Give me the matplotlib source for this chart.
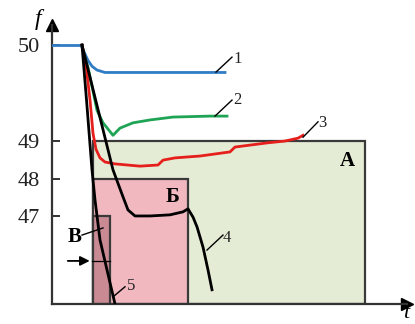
import numpy as np
import matplotlib
matplotlib.use("Agg")
from matplotlib import pyplot as plt
from matplotlib.patches import Rectangle

plt.rcParams['font.family'] = ['Liberation Serif', 'DejaVu Serif']

# time in arbitrary units, frequency f in Hz
t_pre = [0.0, 3.0]
f_pre = [50.0, 50.0]

t1 = [2.9, 3.2, 3.6, 4.0, 4.5, 5.3, 17.3]
f1 = [50.0, 49.93, 49.84, 49.78, 49.74, 49.715, 49.715]

t2 = [3.0, 3.3, 3.6, 4.5, 5.1, 6.1, 6.8, 8.1, 9.8, 12.1, 15.8, 17.5]
f2 = [50.0, 49.86, 49.77, 49.32, 49.19, 49.06, 49.135, 49.19, 49.22, 49.25, 49.26, 49.26]

t3 = [3.0, 3.4, 3.8, 4.1, 4.4, 4.8, 5.3, 6.3, 8.8, 10.6, 11.1, 12.3, 14.8, 17.8, 18.3, 21.5, 23.3,
      24.6, 25.1]
f3 = [50.0, 49.79, 49.43, 49.08, 48.78, 48.55, 48.44, 48.39, 48.33, 48.36, 48.49, 48.55, 48.6,
      48.71, 48.84, 48.95, 49.0, 49.03, 49.06]

t4 = [3.0, 4.36, 6.1, 7.1, 7.6, 8.3, 9.8, 11.8, 13.1, 13.6, 14.1, 14.5, 15.1, 15.6, 16.0]
f4 = [50.0, 49.43, 48.23, 47.51, 47.16, 47.0, 47.0, 47.03, 47.11, 47.19, 46.97, 46.71, 46.17, 45.56, 45.03]

t5 = [3.0, 3.45, 4.0, 4.3, 4.8, 5.5, 6.3]
f5 = [50.0, 49.43, 48.23, 47.43, 46.36, 45.56, 44.65]

# zones: (t start, t end, f upper limit, label)
zone_t0 = [4.1, 4.1, 4.1]
zone_t1 = [31.3, 13.6, 5.8]
zone_ftop = [49.0, 48.0, 47.0]
zone_names = ['А', 'Б', 'В']
zone_colors = ['#e5ecd6', '#f1b8c0', '#c98a93']

yticks = [50, 49, 48, 47]
f_min, f_max = 44.65, 50.21


def fwd(f):
    f = np.asarray(f, dtype=float)
    return np.where(f < 49, f - 49, (f - 49) * 2.56)


def inv(g):
    g = np.asarray(g, dtype=float)
    return np.where(g < 0, g + 49, g / 2.56 + 49)


fig = plt.figure(figsize=(4.15, 3.24), dpi=100)
ax = fig.add_axes([52 / 415, 20 / 324, 355 / 415, 279 / 324])
ax.set_yscale('function', functions=(fwd, inv))
ax.set_xlim(0, 35.5)
ax.set_ylim(f_min, f_max)

for a, b, top, c in zip(zone_t0, zone_t1, zone_ftop, zone_colors):
    ax.add_patch(Rectangle((a, f_min), b - a, top - f_min, facecolor=c,
                           edgecolor='#3a3a3a', lw=1.6, zorder=1))

ax.plot(t_pre, f_pre, color='#2f7cc4', lw=2, zorder=3)
ax.plot(t1, f1, color='#2f7cc4', lw=2, zorder=3)
ax.plot(t2, f2, color='#1ea454', lw=2, zorder=3)
ax.plot(t3, f3, color='#e5201c', lw=2, zorder=3)
ax.plot(t4, f4, color='black', lw=2, zorder=4)
ax.plot(t5, f5, color='black', lw=2, zorder=4)

# zone labels
ax.text(29.5, 48.47, zone_names[0], fontsize=15, fontweight='bold', ha='center', va='center')
ax.text(12.1, 47.51, zone_names[1], fontsize=15, fontweight='bold', ha='center', va='center')
ax.text(2.3, 46.44, zone_names[2], fontsize=15, fontweight='bold', ha='center', va='center')
ax.plot([3.0, 5.1], [46.49, 46.68], color='black', lw=1, zorder=5)

# pointer arrow into zone В
ax.plot([4.0, 5.8], [45.8, 45.8], color='black', lw=0.9, zorder=5)
ax.annotate('', xy=(4.05, 45.8), xytext=(1.3, 45.8),
            arrowprops=dict(arrowstyle='-|>', color='black', lw=1.3, mutation_scale=14))

# curve numbers with leader lines
leaders = [
    ((16.4, 49.719), (18.0, 49.875), (18.1, 49.86), '1'),
    ((16.3, 49.26), (18.0, 49.427), (18.1, 49.43), '2'),
    ((25.1, 49.04), (26.6, 49.2), (26.6, 49.19), '3'),
    ((15.5, 46.09), (17.1, 46.49), (17.1, 46.41), '4'),
    ((6.1, 44.84), (7.3, 45.11), (7.5, 45.13), '5'),
]
for p0, p1, pt, s in leaders:
    ax.plot([p0[0], p1[0]], [p0[1], p1[1]], color='black', lw=1, zorder=5)
    ax.text(pt[0], pt[1], s, fontsize=12, ha='left', va='center', color='#222222')

ax.spines['top'].set_visible(False)
ax.spines['right'].set_visible(False)
for s in ('left', 'bottom'):
    ax.spines[s].set_color('#333333')
    ax.spines[s].set_linewidth(1.6)

ax.set_xticks([])
ax.set_yticks(yticks)
ax.set_yticklabels([str(v) for v in yticks], fontsize=16, color='#222222')
ax.tick_params(axis='y', direction='in', length=6, width=1.4, color='#333333', pad=9)

# axis arrows
ax.plot(1, 0, marker='>', color='black', markersize=9, transform=ax.transAxes, clip_on=False)
ax.plot(0, 1, marker='^', color='black', markersize=9, transform=ax.transAxes, clip_on=False)
fig.text(38 / 415, 1 - 20 / 324, 'f', fontsize=17, style='italic', ha='center', va='center')
fig.text(406 / 415, 1 - 313 / 324, 't', fontsize=16, style='italic', ha='center', va='center')

fig.savefig('out.png', dpi=100)
